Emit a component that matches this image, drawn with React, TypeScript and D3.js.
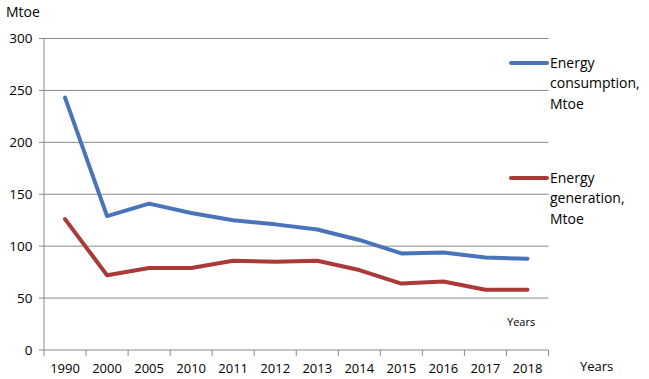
import React from "react";
import * as d3 from "d3";

const years = ["1990", "2000", "2005", "2010", "2011", "2012", "2013", "2014", "2015", "2016", "2017", "2018"];
const consumption = [243, 129, 141, 132, 125, 121, 116, 106, 93, 94, 89, 88];
const generation = [126, 72, 79, 79, 86, 85, 86, 77, 64, 66, 58, 58];
const yTicks = [0, 50, 100, 150, 200, 250, 300];

const W = 649, H = 379;
const left = 44, right = 548.5, top = 38.5, bottom = 350;
const font = "Open Sans, Noto Sans, sans-serif";
const blue = "#4A74BA";
const red = "#A93A38";

export default function App() {
  const x = d3.scaleBand<string>().domain(years).range([left, right]);
  const y = d3.scaleLinear().domain([0, 300]).range([bottom, top]);
  const line = d3.line<number>()
    .x((_, i) => (x(years[i]) as number) + x.bandwidth() / 2)
    .y((d) => y(d));
  const tickXs = [...years.map((yr) => x(yr) as number), right];

  return (
    <svg width={W} height={H} style={{ position: "absolute", left: 0, top: 0 }} fontFamily={font}>
      <rect width={W} height={H} fill="#fff" />
      {yTicks.map((t) => (
        <g key={t}>
          <line x1={left - 5} x2={right} y1={y(t)} y2={y(t)} stroke="#8a8a8a" strokeWidth={1} />
          <text x={32.5} y={y(t)} dy="0.35em" textAnchor="end" fontSize={13.5} fill="#000">{t}</text>
        </g>
      ))}
      <line x1={left} x2={left} y1={top} y2={bottom} stroke="#8a8a8a" />
      {tickXs.map((tx, i) => (
        <line key={i} x1={tx} x2={tx} y1={bottom} y2={bottom + 6} stroke="#8a8a8a" />
      ))}
      {years.map((yr) => (
        <text key={yr} x={(x(yr) as number) + x.bandwidth() / 2} y={368} dy="0.35em" textAnchor="middle" fontSize={13} fill="#000">{yr}</text>
      ))}
      <path d={line(consumption) || ""} fill="none" stroke={blue} strokeWidth={4} strokeLinejoin="round" strokeLinecap="round" />
      <path d={line(generation) || ""} fill="none" stroke={red} strokeWidth={4} strokeLinejoin="round" strokeLinecap="round" />
      <text x={6} y={12} dy="0.35em" fontSize={14} fill="#000">Mtoe</text>
      <text x={580} y={366} dy="0.35em" fontSize={13} fill="#000">Years</text>
      <text x={507} y={322} dy="0.35em" fontSize={11} fill="#000">Years</text>
      <line x1={511} x2={547} y1={63} y2={63} stroke={blue} strokeWidth={4} strokeLinecap="round" />
      <line x1={511} x2={547} y1={178} y2={178} stroke={red} strokeWidth={4} strokeLinecap="round" />
      {["Energy", "consumption,", "Mtoe"].map((s, i) => (
        <text key={s} x={550} y={63 + i * 20.5} dy="0.35em" fontSize={14} fill="#000">{s}</text>
      ))}
      {["Energy", "generation,", "Mtoe"].map((s, i) => (
        <text key={s} x={550} y={178 + i * 20.5} dy="0.35em" fontSize={14} fill="#000">{s}</text>
      ))}
    </svg>
  );
}
